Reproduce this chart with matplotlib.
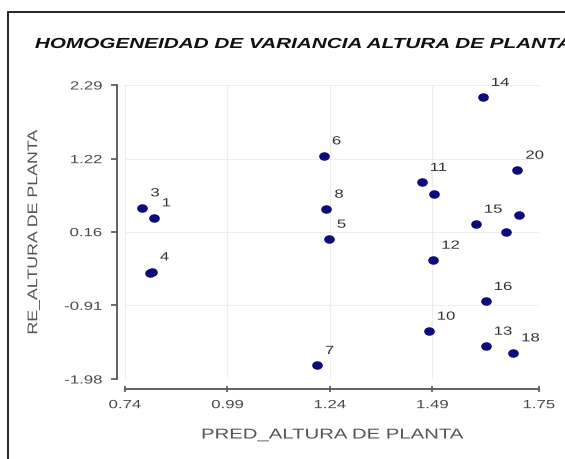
import matplotlib
matplotlib.use("Agg")
import matplotlib.pyplot as plt
import matplotlib.patheffects as pe
from matplotlib.patches import Rectangle
from matplotlib.path import Path
from matplotlib.transforms import Affine2D
from matplotlib.markers import MarkerStyle

plt.rcParams['font.family'] = ['Liberation Sans', 'DejaVu Sans']

# case numbers, predicted values and residuals
case = ['1', '2', '3', '4', '5', '6', '7', '8', '9', '10',
        '11', '12', '13', '14', '15', '16', '17', '18', '19', '20']
pred = [0.810, 0.800, 0.782, 0.805, 1.237, 1.225, 1.208, 1.231, 1.495, 1.481,
        1.464, 1.492, 1.620, 1.613, 1.596, 1.620, 1.670, 1.687, 1.702, 1.697]
resid = [0.363, -0.44, 0.508, -0.422, 0.053, 1.263, -1.781, 0.489, 0.702, -1.283,
         0.877, -0.252, -1.501, 2.111, 0.271, -0.852, 0.159, -1.598, 0.397, 1.055]
# labels hidden behind other points in the original
hidden = ['2', '9', '17', '19']

xticks = [0.74, 0.99, 1.24, 1.49, 1.75]
yticks = [-1.98, -0.91, 0.16, 1.22, 2.29]

SX = 1.42  # the original export is stretched sideways


class Stretch(pe.AbstractPathEffect):
    # widen the glyphs along the text direction, keeping the anchor point fixed
    def __init__(self, sx, anchor=0.5):
        super().__init__()
        self.sx = sx
        self.anchor = anchor

    def draw_path(self, renderer, gc, tpath, affine, rgbFace=None):
        ext = tpath.get_extents()
        a = ext.x0 + self.anchor * (ext.x1 - ext.x0)
        t = Affine2D().translate(-a, 0).scale(self.sx, 1).translate(a, 0) + affine
        renderer.draw_path(gc, tpath, t, rgbFace)


fig = plt.figure(figsize=(5.65, 4.59), dpi=100)
fig.patches.append(Rectangle((8 / 565, -0.1), 1.2, 1 - 12 / 459 + 0.1,
                             transform=fig.transFigure, fill=False,
                             edgecolor='black', linewidth=1.2))

ax = fig.add_axes([125 / 565, 1 - 379 / 459, 414 / 565, 294 / 459])

dot = MarkerStyle(Path.unit_circle().transformed(Affine2D().scale(1.3, 1.0)))
ax.scatter(pred, resid, s=44, marker=dot, color='#0b0b7a', zorder=3, clip_on=False)
for c, x, y in zip(case, pred, resid):
    if c in hidden:
        continue
    ax.annotate(c, (x, y), xytext=(6, 6), textcoords='offset points',
                fontsize=8.5, color='#333333', ha='left', va='bottom',
                path_effects=[Stretch(SX, 0)])

ax.set_xlim(0.74, 1.75)
ax.set_ylim(-1.98, 2.29)
ax.set_xticks(xticks)
ax.set_yticks(yticks)
ax.set_xticklabels(['%.2f' % v for v in xticks])
ax.set_yticklabels(['%.2f' % v for v in yticks])
ax.grid(True, color='#ededed', linewidth=0.8)
ax.set_axisbelow(True)

for s in ['top', 'right']:
    ax.spines[s].set_visible(False)
ax.spines['left'].set_position(('outward', 6))
ax.spines['bottom'].set_position(('outward', 7))
ax.spines['left'].set_bounds(-1.98, 2.29)
ax.spines['bottom'].set_bounds(0.74, 1.75)
for s in ['left', 'bottom']:
    ax.spines[s].set_color('#555555')
    ax.spines[s].set_linewidth(1.3)
ax.tick_params(axis='both', colors='#555555', labelcolor='#4a4a4a',
               labelsize=8.5, length=4, width=1.2)
ax.tick_params(axis='x', direction='inout', length=5, pad=5)
ax.tick_params(axis='y', pad=6.5)
for lab in ax.get_xticklabels():
    lab.set_path_effects([Stretch(SX, 0.5)])
for lab in ax.get_yticklabels():
    lab.set_path_effects([Stretch(SX, 1.0)])

ax.set_xlabel('PRED_ALTURA DE PLANTA', fontsize=10.3, color='#555555',
              path_effects=[Stretch(SX, 0.5)])
ax.set_ylabel('RE_ALTURA DE PLANTA', fontsize=10, color='#555555',
              path_effects=[Stretch(1.28, 0.5)])
ax.xaxis.set_label_coords(0.5, -0.165)
ax.yaxis.set_label_coords(-0.205, 0.5)

fig.text(35 / 565, 1 - 44 / 459, 'HOMOGENEIDAD DE VARIANCIA ALTURA DE PLANTA',
         fontsize=10.5, fontweight='bold', fontstyle='italic', color='#111111',
         ha='left', va='center', path_effects=[Stretch(SX, 0)])

fig.savefig('out.png', dpi=100)
